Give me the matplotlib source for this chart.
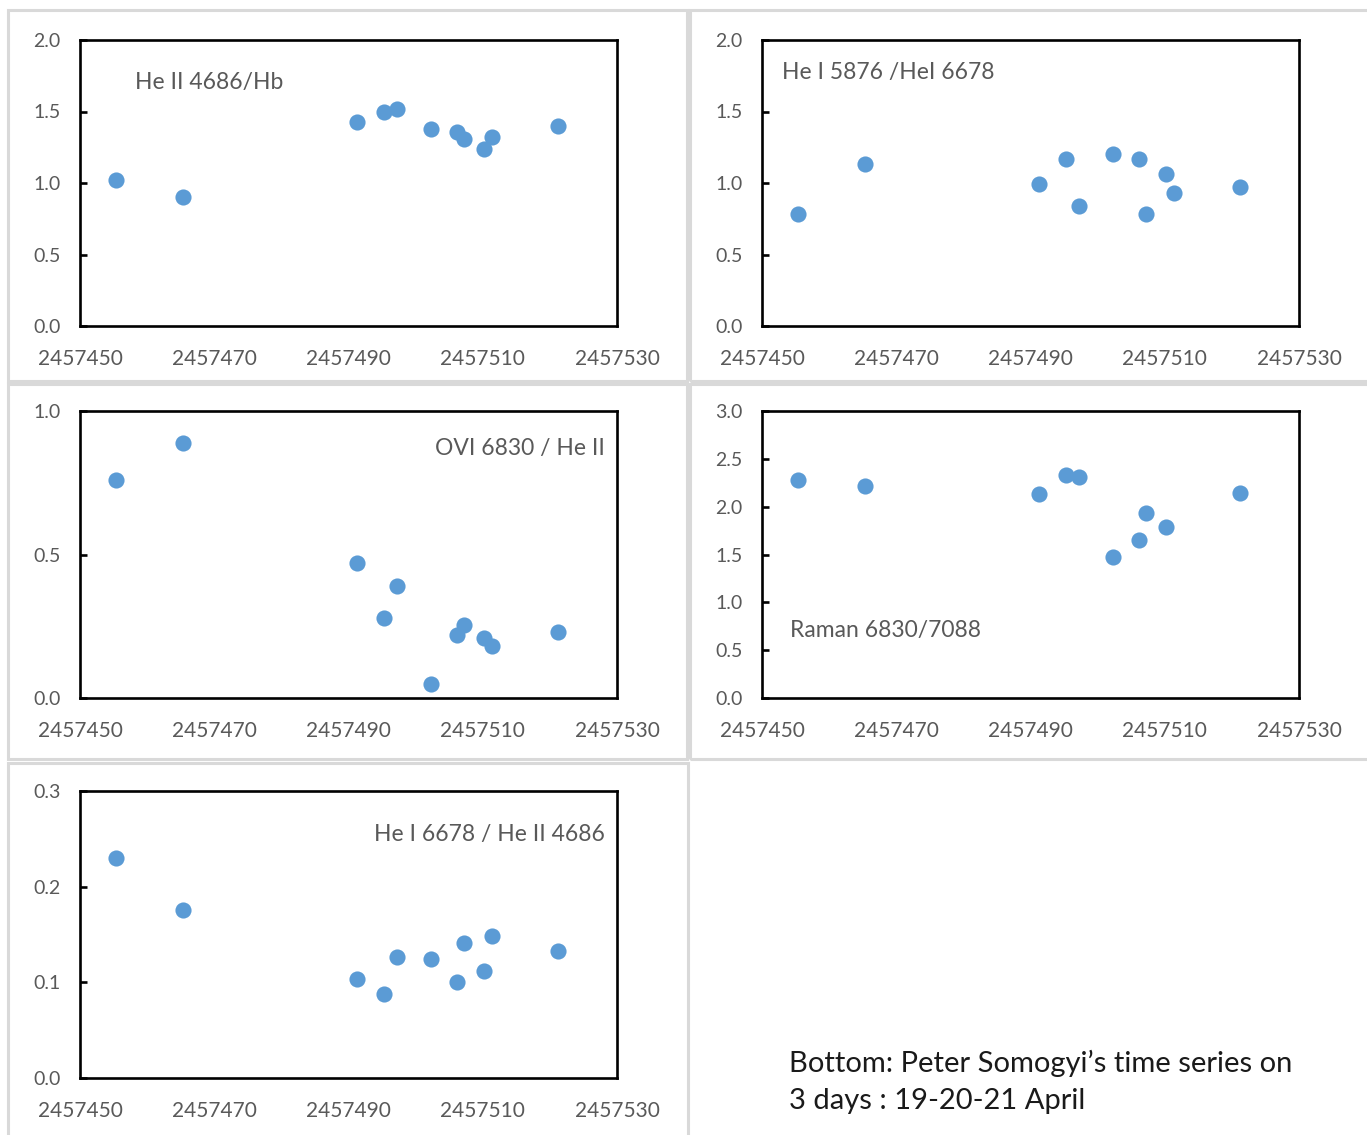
import matplotlib
matplotlib.use("Agg")
import matplotlib.pyplot as plt
from matplotlib.patches import Rectangle

plt.rcParams["font.family"] = ["Lato", "DejaVu Sans"]

W, H = 1367, 1135

# Julian dates of the observations (same for every ratio)
jd = [2457455.4, 2457465.3, 2457491.3, 2457495.3, 2457497.2, 2457502.3,
      2457506.2, 2457507.2, 2457510.2, 2457511.4, 2457521.2]

heii_hb = [1.02, 0.90, 1.43, 1.50, 1.52, 1.38, 1.36, 1.31, 1.24, 1.32, 1.40]
hei5876_hei6678 = [0.78, 1.13, 0.99, 1.17, 0.84, 1.20, 1.17, 0.78, 1.06, 0.93, 0.97]
ovi_heii = [0.76, 0.89, 0.47, 0.28, 0.39, 0.05, 0.22, 0.255, 0.21, 0.18, 0.23]
raman_ratio = [2.28, 2.22, 2.13, 2.33, 2.31, 1.47, 1.65, 1.93, 1.79, 3.2, 2.14]
hei6678_heii = [0.230, 0.176, 0.104, 0.088, 0.126, 0.124, 0.100, 0.141, 0.112, 0.148, 0.133]

x_ticks = [2457450, 2457470, 2457490, 2457510, 2457530]

MARKER = "#5B9BD5"
TICK_GREY = "#595959"
BORDER = "#D9D9D9"


def fx(x):
    return x / W


def fy(y):
    return 1 - y / H


fig = plt.figure(figsize=(W / 100, H / 100), dpi=100)

# light grey chart-area frames
for (x0, y0, x1, y1) in [(8, 10, 687, 381), (690, 10, 1370, 381),
                         (8, 384, 687, 759), (690, 384, 1370, 759),
                         (8, 763, 688, 1140)]:
    fig.patches.append(Rectangle((fx(x0), fy(y1)), fx(x1 - x0), (y1 - y0) / H,
                                 transform=fig.transFigure, fill=False,
                                 edgecolor=BORDER, linewidth=2.2, zorder=0))


def panel(left, top, right, bottom, y, ymax, ystep, label, lx, ly, ha):
    ax = fig.add_axes([fx(left), fy(bottom), (right - left) / W, (bottom - top) / H])
    ax.scatter(jd, y, s=135, color=MARKER, zorder=3, linewidths=0, clip_on=True)
    ax.set_xlim(x_ticks[0], x_ticks[-1])
    ax.set_ylim(0, ymax)
    ax.set_xticks(x_ticks)
    ax.set_xticklabels([str(t) for t in x_ticks])
    nsteps = int(round(ymax / ystep))
    yt = [i * ystep for i in range(nsteps + 1)]
    ax.set_yticks(yt)
    ax.set_yticklabels([f"{v:.1f}" for v in yt])
    for s in ax.spines.values():
        s.set_linewidth(1.9)
        s.set_color("black")
    ax.tick_params(axis="x", length=0, pad=16.5, labelsize=15, labelcolor=TICK_GREY)
    ax.tick_params(axis="y", direction="in", length=5, width=1.9, pad=14,
                   labelsize=14, labelcolor=TICK_GREY)
    fig.text(fx(lx), fy(ly), label, ha=ha, va="center", fontsize=16.5, color=TICK_GREY)
    return ax


panel(80, 40, 617, 326, heii_hb, 2.0, 0.5, "He II 4686/Hb", 135, 83, "left")
panel(762, 40, 1299, 326, hei5876_hei6678, 2.0, 0.5, "He I 5876 /HeI 6678", 782, 72, "left")
panel(80, 411, 617, 698, ovi_heii, 1.0, 0.5, "OVI 6830 / He II", 605, 449, "right")
panel(762, 411, 1299, 698, raman_ratio, 3.0, 0.5, "Raman 6830/7088", 790, 631, "left")
panel(80, 791, 617, 1078, hei6678_heii, 0.3, 0.1, "He I 6678 / He II 4686", 605, 834, "right")

fig.text(fx(789), fy(1063), "Bottom: Peter Somogyi\u2019s time series on",
         ha="left", va="center", fontsize=21, color="#1a1a1a")
fig.text(fx(789), fy(1101), "3 days : 19-20-21 April",
         ha="left", va="center", fontsize=21, color="#1a1a1a")

fig.savefig("out.png", dpi=100)
